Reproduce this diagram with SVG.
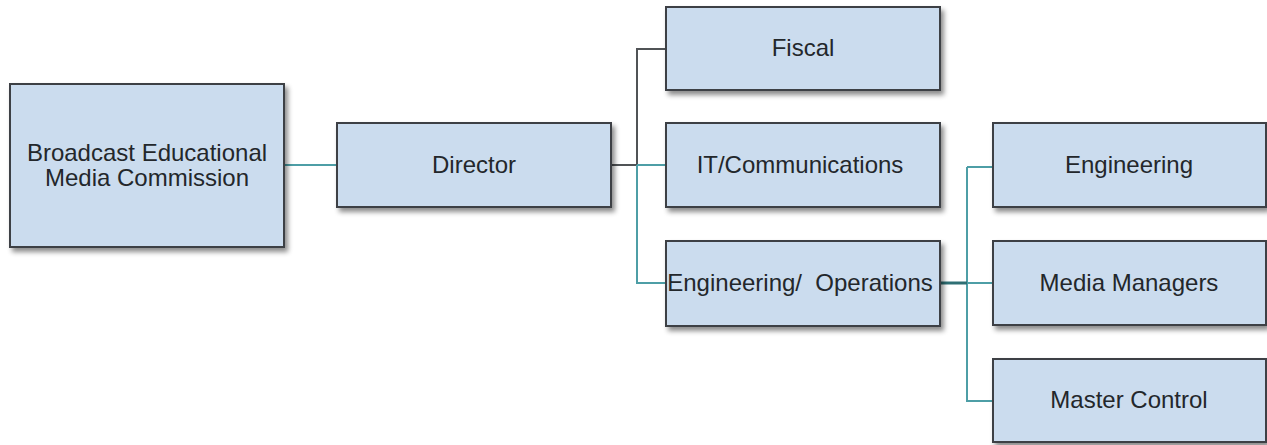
<svg xmlns="http://www.w3.org/2000/svg" width="1267" height="445" viewBox="0 0 1267 445">
<defs>
<filter id="sh" x="-10%" y="-10%" width="125%" height="135%">
<feDropShadow dx="3" dy="4" stdDeviation="2.5" flood-color="#000" flood-opacity="0.45"/>
</filter>
</defs>
<style>
.box{fill:#cbdcee;stroke:#3d4145;stroke-width:2;filter:url(#sh)}
.t{font-family:"Liberation Sans",Arial,sans-serif;font-size:24px;fill:#23272b;text-anchor:middle}
.teal{fill:none;stroke:#4d9ea6;stroke-width:2}
.gray{fill:none;stroke:#505356;stroke-width:2}
</style>
<rect width="1267" height="445" fill="#fff"/>
<g id="connectors">
<path class="teal" d="M284 165 H337"/>
<path class="gray" d="M611 165 H637 M637 165 V49 H666"/>
<path class="teal" d="M637 165 H666 M637 165 V283 H666"/>
<path class="teal" d="M967 167 H993 M967 167 V401 H993 M967 283 H993"/>
<path fill="none" stroke="#2e6f74" stroke-width="3" d="M940 283 H967"/>
</g>
<g id="n-bemc"><rect class="box" x="10" y="84" width="274" height="163"/><text class="t" x="147" y="161">Broadcast Educational</text><text class="t" x="147" y="186">Media Commission</text></g>
<g id="n-director"><rect class="box" x="337" y="123" width="274" height="84"/><text class="t" x="474" y="173">Director</text></g>
<g id="n-fiscal"><rect class="box" x="666" y="7" width="274" height="83"/><text class="t" x="803" y="56">Fiscal</text></g>
<g id="n-it"><rect class="box" x="666" y="123" width="274" height="84"/><text class="t" x="800" y="173">IT/Communications</text></g>
<g id="n-engops"><rect class="box" x="666" y="241" width="274" height="85"/><text class="t" x="800" y="291" xml:space="preserve">Engineering/  Operations</text></g>
<g id="n-eng"><rect class="box" x="993" y="123" width="273" height="84"/><text class="t" x="1129" y="173">Engineering</text></g>
<g id="n-media"><rect class="box" x="993" y="241" width="273" height="84"/><text class="t" x="1129" y="291">Media Managers</text></g>
<g id="n-master"><rect class="box" x="993" y="359" width="273" height="83"/><text class="t" x="1129" y="408">Master Control</text></g>
</svg>
